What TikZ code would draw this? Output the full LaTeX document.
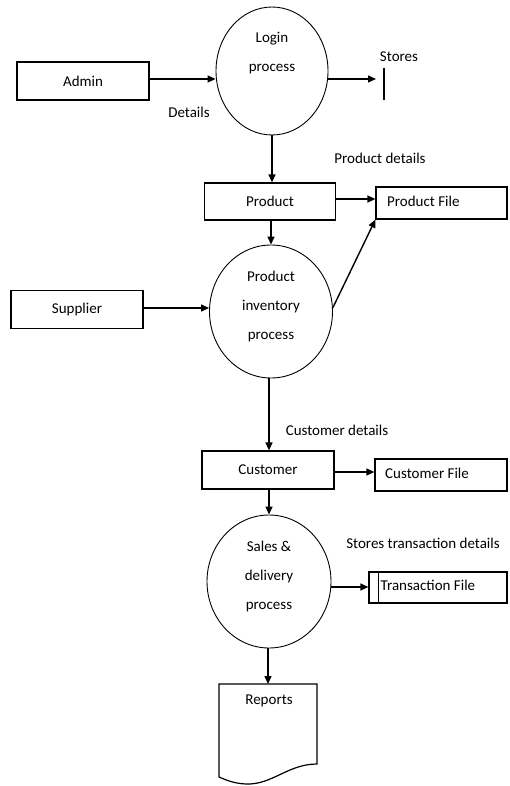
\documentclass[tikz,border=0pt]{standalone}
\usepackage{fontspec}
\setmainfont{Carlito}
\usetikzlibrary{shapes.geometric,arrows.meta}
\begin{document}
\begin{tikzpicture}[x=1pt,y=-1pt,
  every node/.style={font=\fontsize{15}{29}\selectfont, inner sep=0pt},
  entity/.style={draw, line width=1.2pt, minimum width=132pt, minimum height=38pt},
  filebox/.style={draw, line width=1.2pt, minimum height=32pt},
  proc/.style={draw, ellipse, line width=0.9pt},
  flow/.style={line width=1.4pt, -{Triangle[length=8pt,width=7pt]}},
  lbl/.style={}]
\useasboundingbox (0,0) rectangle (509,786);
% entities
\node[entity] (admin) at (83,81) {Admin};
\node[entity] (supplier) at (77,309.5) {Supplier};
\node[entity, minimum width=131pt, minimum height=37pt] (product) at (270,201.5) {Product};
\node[entity] (customer) at (268,470) {Customer};
% processes
\node[proc, minimum width=112pt, minimum height=128pt] (login) at (272,71) {};
\node[align=center] (logintxt) at (272,53) {Login\\process};
\node[proc, minimum width=123pt, minimum height=133pt] (pinv) at (271,311.5) {};
\node[align=center] (pinvtxt) at (271,306) {Product\\inventory\\process};
\node[proc, minimum width=124pt, minimum height=133pt] (sales) at (269,581.5) {};
\node[align=center] (salestxt) at (269,576) {Sales \&\\delivery\\process};
% files
\node[filebox, minimum width=131pt] (pfile) at (441.5,203) {};
\node[anchor=west] (pfiletxt) at (387,201) {Product File};
\node[filebox, minimum width=132pt] (cfile) at (441,475) {};
\node[anchor=west] (cfiletxt) at (385,473) {Customer File};
\node[filebox, minimum width=138pt, minimum height=31pt] (tfile) at (438,587.5) {};
\node[anchor=west] (tfiletxt) at (380.5,585) {Transaction File};
\draw[line width=1.2pt] ([xshift=10pt]tfile.north west) -- ([xshift=10pt]tfile.south west);
% stores bar
\coordinate (storestop) at (384,68);
\coordinate (storesbot) at (384,100);
\coordinate (storesin) at (376,79);
\draw[line width=1.1pt] (storestop) -- (storesbot);
% reports document
\coordinate (reptop) at (268,684);
\draw[line width=1.2pt] (219,684) -- (317,684) -- (317,764)
  .. controls (288,764) and (272,785) .. (246,784)
  .. controls (234,783.5) and (226,780) .. (219,777) -- cycle;
\node (reports) at (269,701) {Reports};
% labels
\node[lbl] (lstores) at (399,57) {Stores};
\node[lbl] (ldetails) at (189,112) {Details};
\node[lbl] (lpdetails) at (380,158) {Product details};
\node[lbl] (lcdetails) at (337,430) {Customer details};
\node[lbl] (ltdetails) at (423,543) {Stores transaction details};
% flows
\draw[flow] (admin.east |- 0,79) -- (login.west |- 0,79);
\draw[flow] (login.east |- 0,79) -- (storesin);
\draw[flow] (login.south) -- (login.south |- product.north);
\draw[flow] (product.east |- 0,199) -- (pfile.west |- 0,199);
\draw[flow] (product.south -| 271,0) -- (pinv.north -| 271,0);
\draw[flow] (supplier.east |- 0,308) -- (pinv.west |- 0,308);
\draw[flow] ([yshift=4pt]pinv.east) -- (pfile.south west);
\draw[flow] (pinv.south -| 269,0) -- (customer.north -| 269,0);
\draw[flow] (customer.east |- 0,472) -- (cfile.west |- 0,472);
\draw[flow] (customer.south -| 269,0) -- (sales.north -| 269,0);
\draw[flow] (sales.east |- 0,587) -- (tfile.west |- 0,587);
\draw[flow] (sales.south -| 268,0) -- (reptop);
\end{tikzpicture}
\end{document}
